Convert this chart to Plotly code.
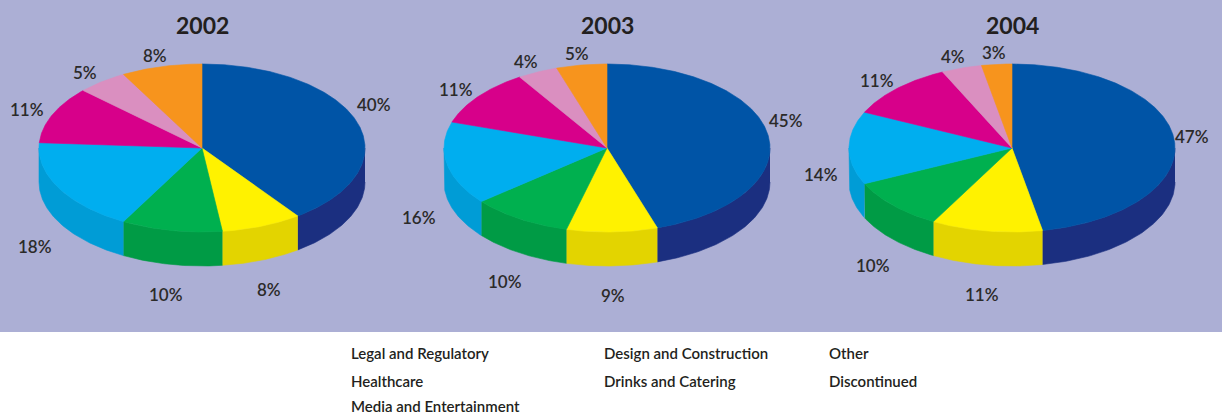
import numpy as np
import plotly.graph_objects as go

# ---------------- data ----------------
years = ["2002", "2003", "2004"]
categories = [
    "Legal and Regulatory", "Design and Construction", "Other",
    "Healthcare", "Drinks and Catering", "Discontinued",
    "Media and Entertainment",
]
values_2002 = [40, 8, 10, 18, 11, 5, 8]
values_2003 = [45, 9, 10, 16, 11, 4, 5]
values_2004 = [47, 11, 10, 14, 11, 4, 3]
all_values = [values_2002, values_2003, values_2004]

# ---------------- styles ----------------
top_colors = ["#0054A6", "#FFF200", "#00B04F", "#00AEEF", "#D7008A", "#DA8FC0", "#F7941D"]
side_colors = ["#1B2F80", "#E3D400", "#009B45", "#009CD6", "#B00072", "#C07AA8", "#D67E15"]
BG = "#ACAFD5"
TXT = "#2B2A29"
FONT = "Lato"

W, H = 1222, 416
RX, RY, DEPTH = 163, 84, 34
CY = 148
CX0, DX = 202, 405
BAND_H = 332

fig = go.Figure()
annotations = []

for i, (year, vals) in enumerate(zip(years, all_values)):
    cx = CX0 + i * DX
    total = float(sum(vals))
    ang = np.concatenate([[0.0], np.cumsum(vals) / total * 360.0])

    # side faces (visible front half)
    for k in range(len(vals)):
        a, b = ang[k], ang[k + 1]
        lo, hi = max(a, 90.0), min(b, 270.0)
        if hi > lo:
            t = np.radians(np.linspace(lo, hi, 80))
            xs = cx + RX * np.sin(t)
            ys = CY - RY * np.cos(t)
            px = np.concatenate([xs, xs[::-1]])
            py = np.concatenate([ys, ys[::-1] + DEPTH])
            fig.add_trace(go.Scatter(
                x=px, y=py, mode="lines", fill="toself",
                fillcolor=side_colors[k],
                line=dict(color=side_colors[k], width=0.6),
                hoverinfo="skip", showlegend=False))

    # top faces
    for k in range(len(vals)):
        a, b = ang[k], ang[k + 1]
        n = max(int((b - a) * 2), 6)
        t = np.radians(np.linspace(a, b, n))
        px = np.concatenate([[cx], cx + RX * np.sin(t), [cx]])
        py = np.concatenate([[CY], CY - RY * np.cos(t), [CY]])
        fig.add_trace(go.Scatter(
            x=px, y=py, mode="lines", fill="toself",
            fillcolor=top_colors[k],
            line=dict(color=top_colors[k], width=0.6),
            hoverinfo="skip", showlegend=False,
            name=f"{categories[k]} {year}"))

        # percentage label
        m = np.radians((a + b) / 2.0)
        s, c = np.sin(m), np.cos(m)
        xpad = 28 if s < 0 else 18
        ly = CY - (RY + 12) * c + (DEPTH + 18) * np.clip(0.5 - 3 * c, 0, 1)
        if s > 0 and c > 0:
            ly -= 14
        lx = cx + (RX + xpad) * s
        annotations.append(dict(
            x=lx, y=ly, xref="x", yref="y", text=f"{vals[k]}%",
            showarrow=False, xanchor="center", yanchor="middle",
            font=dict(family=FONT, size=17, color=TXT, weight=600)))

    # year title
    annotations.append(dict(
        x=cx, y=25, xref="x", yref="y", text=f"<b>{year}</b>",
        showarrow=False, xanchor="center", yanchor="middle",
        font=dict(family=FONT, size=23, color="#231F20")))

# legend as plain text (no swatches), row-major in 3 columns
leg_x = [349, 602, 827]
leg_y = [353, 381, 406]
for j, cat in enumerate(categories):
    annotations.append(dict(
        x=leg_x[j % 3], y=leg_y[j // 3], xref="x", yref="y", text=cat,
        showarrow=False, xanchor="left", yanchor="middle",
        font=dict(family=FONT, size=15, color="#231F20", weight=600)))

fig.update_layout(
    width=W, height=H,
    margin=dict(l=0, r=0, t=0, b=0),
    paper_bgcolor="white", plot_bgcolor="white",
    xaxis=dict(range=[0, W], visible=False, fixedrange=True),
    yaxis=dict(range=[H, 0], visible=False, fixedrange=True),
    shapes=[dict(type="rect", xref="x", yref="y", x0=0, x1=W, y0=0, y1=BAND_H,
                 fillcolor=BG, line=dict(width=0), layer="below")],
    annotations=annotations,
    showlegend=False,
)

fig.write_html("out.html")
